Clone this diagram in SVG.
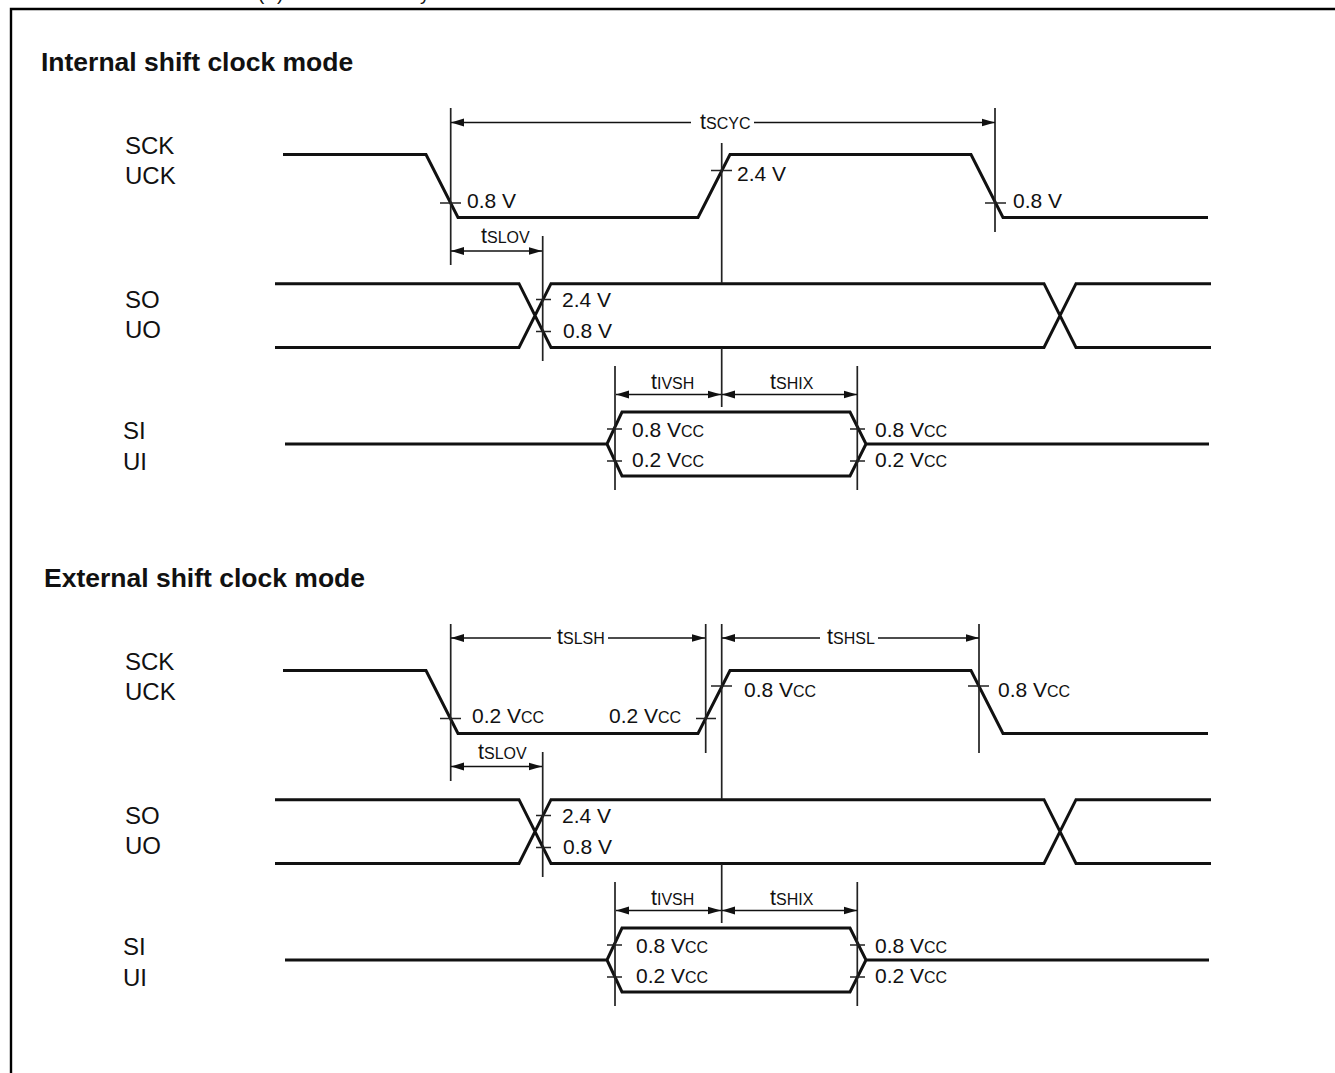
<svg xmlns="http://www.w3.org/2000/svg" width="1335" height="1073" viewBox="0 0 1335 1073">
<style>
text{font-family:"Liberation Sans",Arial,sans-serif;fill:#111;font-size:21px}
.h{font-weight:bold;font-size:26.5px}
.l{font-size:24px}
.s{font-size:16px}
.t{font-size:21.5px}
.sig{fill:none;stroke:#111;stroke-width:3}
.thin{fill:none;stroke:#222;stroke-width:1.7}
.dim{fill:none;stroke:#111;stroke-width:1.6;marker-start:url(#a);marker-end:url(#b)}
.dl{fill:none;stroke:#111;stroke-width:1.6;marker-start:url(#a)}
.dr{fill:none;stroke:#111;stroke-width:1.6;marker-end:url(#b)}
</style>
<defs>
<marker id="b" markerUnits="userSpaceOnUse" markerWidth="14" markerHeight="9" refX="13.5" refY="4.5" orient="auto"><path d="M0 0.5L13.5 4.5L0 8.5Z" fill="#111"/></marker>
<marker id="a" markerUnits="userSpaceOnUse" markerWidth="14" markerHeight="9" refX="0.5" refY="4.5" orient="auto"><path d="M13.5 0.5L0.5 4.5L13.5 8.5Z" fill="#111"/></marker>
</defs>
<rect width="1335" height="1073" fill="#fff"/>
<g id="clipped-heading"><text x="258" y="0" style="font-size:19px">(</text><text x="277" y="0" style="font-size:19px">)</text><text x="420" y="0" style="font-size:19px">y</text></g>
<path id="frame" d="M1335 9H11V1073" fill="none" stroke="#000" stroke-width="2.4"/>

<g id="internal-mode">
<text class="h" x="41" y="71">Internal shift clock mode</text>
<g id="int-sck"><text class="l" x="125" y="154">SCK</text><text class="l" x="125" y="184">UCK</text>
<path class="sig" d="M283 154.5H426L458 217.5H698L730 154.5H971L1003 217.5H1208"/></g>
<g id="int-so"><text class="l" x="125" y="308">SO</text><text class="l" x="125" y="338">UO</text>
<path class="sig" d="M275 283.7H519L551 347.5H1044L1076 283.7H1211M275 347.5H519L551 283.7H1044L1076 347.5H1211"/></g>
<g id="int-si"><text class="l" x="123" y="439">SI</text><text class="l" x="123" y="470">UI</text>
<path class="sig" d="M285 444H607L622 412H850L866 444H1209M607 444L622 476H850L866 444"/></g>
<g id="int-levels">
<path class="thin" d="M440 203H461M711 170.5H732M985 203H1006M536 299.5H551M536 331.5H551M607 429H622M607 461H622M850 429H865M850 461H865"/>
<text x="467" y="208">0.8 V</text><text x="737" y="181">2.4 V</text><text x="1013" y="208">0.8 V</text>
<text x="562" y="307">2.4 V</text><text x="563" y="338">0.8 V</text>
<text x="632" y="437">0.8 V<tspan class="s">CC</tspan></text><text x="632" y="467">0.2 V<tspan class="s">CC</tspan></text>
<text x="875" y="437">0.8 V<tspan class="s">CC</tspan></text><text x="875" y="467">0.2 V<tspan class="s">CC</tspan></text>
</g>
</g>

<g id="external-mode">
<text class="h" x="44" y="587">External shift clock mode</text>
<g id="ext-sck"><text class="l" x="125" y="670">SCK</text><text class="l" x="125" y="700">UCK</text>
<path class="sig" d="M283 670.5H426L458 733.5H698L730 670.5H971L1003 733.5H1208"/></g>
<g id="ext-so"><text class="l" x="125" y="824">SO</text><text class="l" x="125" y="854">UO</text>
<path class="sig" d="M275 799.7H519L551 863.5H1044L1076 799.7H1211M275 863.5H519L551 799.7H1044L1076 863.5H1211"/></g>
<g id="ext-si"><text class="l" x="123" y="955">SI</text><text class="l" x="123" y="986">UI</text>
<path class="sig" d="M285 960H607L622 928H850L866 960H1209M607 960L622 992H850L866 960"/></g>
<g id="ext-levels">
<path class="thin" d="M440 718.5H461M696 718.5H716M711 686H732M968 686H989M536 815.5H551M536 847.5H551M607 945H622M607 977H622M850 945H865M850 977H865"/>
<text x="472" y="723">0.2 V<tspan class="s">CC</tspan></text><text x="609" y="723">0.2 V<tspan class="s">CC</tspan></text>
<text x="744" y="697">0.8 V<tspan class="s">CC</tspan></text><text x="998" y="697">0.8 V<tspan class="s">CC</tspan></text>
<text x="562" y="823">2.4 V</text><text x="563" y="854">0.8 V</text>
<text x="636" y="953">0.8 V<tspan class="s">CC</tspan></text><text x="636" y="983">0.2 V<tspan class="s">CC</tspan></text>
<text x="875" y="953">0.8 V<tspan class="s">CC</tspan></text><text x="875" y="983">0.2 V<tspan class="s">CC</tspan></text>
</g>
</g>

<g id="connectors">
<path class="thin" d="M450.7 108V265M542.7 236V361M721.7 143V283M721.7 348V407M995 108V232M615 366V490M857.3 366V490"/>
<path class="dl" d="M451 122.5H691"/><path class="dr" d="M754 122.5H995"/>
<path class="dim" d="M451 251H542"/>
<path class="dim" d="M616 394.5H721"/><path class="dim" d="M722 394.5H857"/>
<path class="thin" d="M450.7 624V781M542.7 752V877M705.7 624V753M721.7 624V799M721.7 864V923M979 624V753M615 882V1006M857.3 882V1006"/>
<path class="dl" d="M451 638H551"/><path class="dr" d="M608 638H705"/>
<path class="dl" d="M722 638H820"/><path class="dr" d="M878 638H979"/>
<path class="dim" d="M451 766.5H542"/>
<path class="dim" d="M616 910.5H721"/><path class="dim" d="M722 910.5H857"/>
</g>

<g id="timing-labels">
<text class="t" x="700" y="129">t<tspan class="s">SCYC</tspan></text>
<text class="t" x="481" y="243">t<tspan class="s">SLOV</tspan></text>
<text class="t" x="651" y="389">t<tspan class="s">IVSH</tspan></text>
<text class="t" x="770" y="389">t<tspan class="s">SHIX</tspan></text>
<text class="t" x="557" y="644">t<tspan class="s">SLSH</tspan></text>
<text class="t" x="827" y="644">t<tspan class="s">SHSL</tspan></text>
<text class="t" x="478" y="759">t<tspan class="s">SLOV</tspan></text>
<text class="t" x="651" y="905">t<tspan class="s">IVSH</tspan></text>
<text class="t" x="770" y="905">t<tspan class="s">SHIX</tspan></text>
</g>
</svg>
